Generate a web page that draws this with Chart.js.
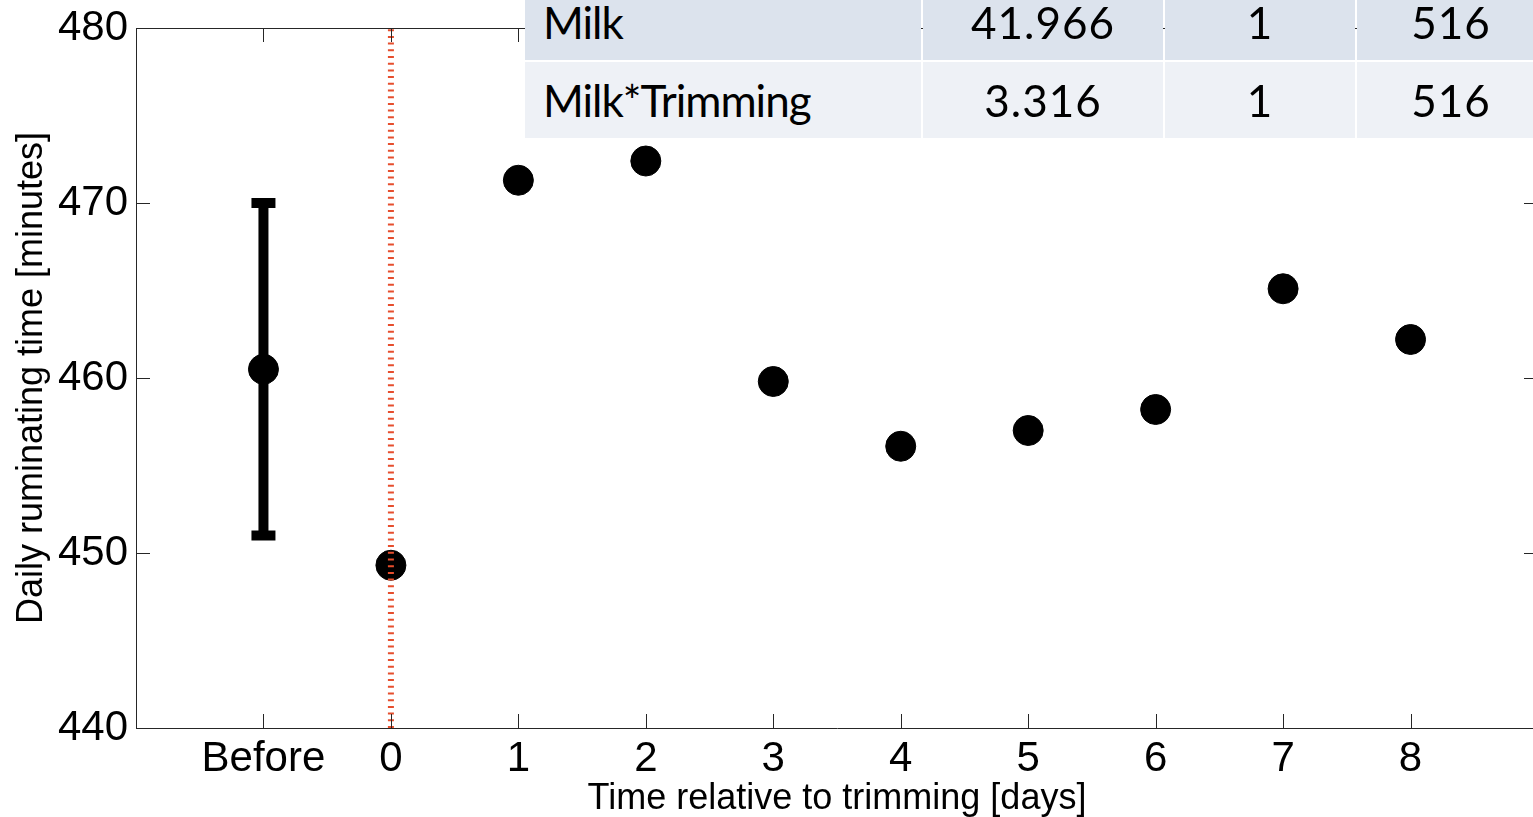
<!DOCTYPE html>
<html>
<head>
<meta charset="utf-8">
<script src="https://cdn.jsdelivr.net/npm/chart.js@4.4.1/dist/chart.umd.min.js"></script>
<style>
html,body{margin:0;padding:0;background:#fff;overflow:hidden;width:1533px;height:817px;}
#wrap{position:relative;width:1533px;height:817px;overflow:hidden;}
#c{position:absolute;left:0;top:0;}
.cell{position:absolute;font-family:Lato,'Noto Sans',sans-serif;font-size:44px;color:#000;line-height:76px;height:76px;white-space:nowrap;overflow:hidden;}
.r0{background:#dce3ed;}
.r1{background:#eef1f6;}
.first{text-align:left;padding-left:18px;box-sizing:border-box;letter-spacing:-1px;}
.num{text-align:center;letter-spacing:1px;}
</style>
</head>
<body>
<div id="wrap">
<canvas id="c" width="1560" height="817"></canvas>
<div id="tbl"></div>
</div>
<script>
// ---- data ----
const xTickValues = [-1, 0, 1, 2, 3, 4, 5, 6, 7, 8];
const xTickLabels = ['Before', '0', '1', '2', '3', '4', '5', '6', '7', '8'];
const yTickValues = [440, 450, 460, 470, 480];
const pointX = [-1, 0, 1, 2, 3, 4, 5, 6, 7, 8];
const pointY = [460.5, 449.3, 471.3, 472.4, 459.8, 456.1, 457.0, 458.2, 465.1, 462.2];
const errX = [-1, -1];
const errY = [451.0, 470.0];
const trimX = [0, 0];
const trimY = [440, 480];
const tableRows = [
  ['Milk', '41.966', '1', '516'],
  ['Milk*Trimming', '3.316', '1', '516']
];

// ---- table overlay ----
const colLeft = [525, 923, 1165, 1357];
const colWidth = [396, 240, 190, 188];
const rowTop = [-16, 62];
const tbl = document.getElementById('tbl');
tableRows.forEach((row, ri) => {
  row.forEach((txt, ci) => {
    const d = document.createElement('div');
    d.className = 'cell r' + ri + (ci === 0 ? ' first' : ' num');
    d.style.left = colLeft[ci] + 'px';
    d.style.top = rowTop[ri] + 'px';
    d.style.width = colWidth[ci] + 'px';
    d.textContent = txt;
    tbl.appendChild(d);
  });
});

const pts = (xs, ys) => xs.map((x, i) => ({x: x, y: ys[i]}));
const FONT = "'Liberation Sans', Arial, sans-serif";
const noPad = s => { s.paddingTop = 0; s.paddingBottom = 0; s.paddingLeft = 0; s.paddingRight = 0; };

const frameTicks = {
  id: 'frameTicks',
  afterDraw(chart) {
    const {ctx, chartArea: a, scales: {x, y}} = chart;
    ctx.save();
    ctx.strokeStyle = '#262626';
    ctx.lineWidth = 1;
    ctx.beginPath();
    ctx.rect(Math.round(a.left) + 0.5, Math.round(a.top) + 0.5, Math.round(a.right - a.left), Math.round(a.bottom - a.top));
    const L = 14;
    x.ticks.forEach(t => {
      const px = Math.round(x.getPixelForValue(t.value)) + 0.5;
      ctx.moveTo(px, a.bottom); ctx.lineTo(px, a.bottom - L);
      ctx.moveTo(px, a.top); ctx.lineTo(px, a.top + L);
    });
    y.ticks.forEach(t => {
      const py = Math.round(y.getPixelForValue(t.value)) + 0.5;
      ctx.moveTo(a.left, py); ctx.lineTo(a.left + L, py);
      ctx.moveTo(a.right, py); ctx.lineTo(a.right - L, py);
    });
    ctx.stroke();
    ctx.restore();
  }
};

new Chart(document.getElementById('c'), {
  type: 'scatter',
  data: {
    datasets: [
      {
        data: pts(trimX, trimY), showLine: true, borderColor: 'rgb(230,78,45)', borderWidth: 6,
        borderDash: [2, 4.7], pointRadius: 0, order: 0
      },
      {
        data: pts(pointX, pointY), pointRadius: 15, backgroundColor: '#000', borderColor: '#000',
        borderWidth: 1, showLine: false, order: 1
      },
      {
        data: pts(errX, errY), showLine: true, borderColor: '#000', borderWidth: 10,
        pointStyle: 'line', pointRadius: 12, pointBorderWidth: 10, pointBorderColor: '#000',
        pointBackgroundColor: '#000', order: 2
      }
    ]
  },
  options: {
    responsive: false,
    animation: false,
    devicePixelRatio: 1,
    events: [],
    layout: {padding: {top: 28, right: 18, left: 0, bottom: 0}},
    plugins: {legend: {display: false}, tooltip: {enabled: false}},
    scales: {
      x: {
        type: 'linear', min: -2, max: 9,
        afterBuildTicks: s => { s.ticks = xTickValues.map(v => ({value: v})); },
        afterFit: s => { s.height = 89; noPad(s); },
        grid: {display: false, drawTicks: false},
        border: {display: false},
        ticks: {
          autoSkip: false, maxRotation: 0, padding: 6, color: '#000',
          font: {family: FONT, size: 42, lineHeight: 1.2},
          callback: v => xTickLabels[xTickValues.indexOf(v)]
        },
        title: {
          display: true, text: 'Time relative to trimming [days]', color: '#000',
          font: {family: FONT, size: 36, lineHeight: 1}, padding: {top: 0, bottom: 0}
        }
      },
      y: {
        type: 'linear', min: 440, max: 480,
        afterBuildTicks: s => { s.ticks = yTickValues.map(v => ({value: v})); },
        afterFit: s => { s.width = 136; noPad(s); },
        grid: {display: false, drawTicks: false},
        border: {display: false},
        ticks: {
          padding: 8, color: '#000',
          font: {family: FONT, size: 42, lineHeight: 1.2}
        },
        title: {
          display: true, text: 'Daily ruminating time [minutes]', color: '#000',
          font: {family: FONT, size: 36, lineHeight: 1}, padding: {top: 14, bottom: 0}
        }
      }
    }
  },
  plugins: [frameTicks]
});
</script>
</body>
</html>
